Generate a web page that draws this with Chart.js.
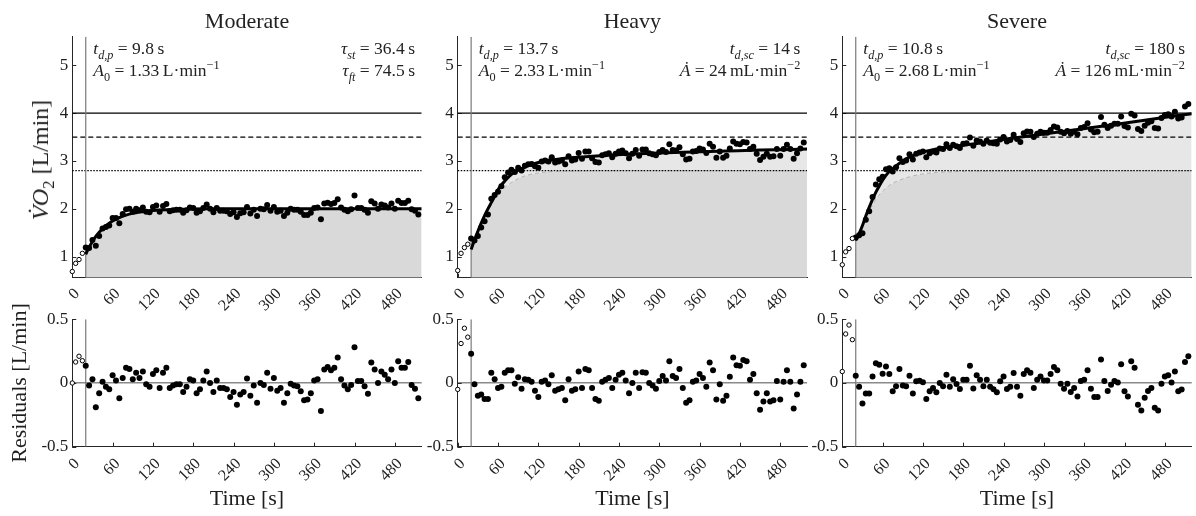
<!DOCTYPE html>
<html>
<head>
<meta charset="utf-8">
<script src="https://cdn.jsdelivr.net/npm/chart.js@4.4.1/dist/chart.umd.min.js"></script>
<style>
  body { margin: 0; background: #fff; width: 1196px; height: 516px; position: relative; overflow: hidden;
         font-family: 'Liberation Serif', 'Times New Roman', serif; }
  canvas { position: absolute; }
  .txt { position: absolute; white-space: nowrap; line-height: 1; color: #222; }
  .txt sub, .txt sup { font-size: 70%; line-height: 0; }
</style>
</head>
<body>
<script>
// ---- data ----
const sampleTimes = [20,25,30,35,40,45,50,55,60,65,
  70,75,80,85,90,95,100,105,110,115,
  120,125,130,135,140,145,150,155,160,165,
  170,175,180,185,190,195,200,205,210,215,
  220,225,230,235,240,245,250,255,260,265,
  270,275,280,285,290,295,300,305,310,315,
  320,325,330,335,340,345,350,355,360,365,
  370,375,380,385,390,395,400,405,410,415,
  420,425,430,435,440,445,450,455,460,465,
  470,475,480,485,490,495,500,505,510,515];
const baselineTimes = [0,5,10,15];
const timeTicks = [0,60,120,180,240,300,360,420,480];
const vo2Ticks = [1,2,3,4,5];
const residualTicks = [-0.5,0,0.5];
const timeRange = [0,520];
const vo2Range = [0.56,5.6];
const residualRange = [-0.5,0.5];
const thresholds = [4,3.5,2.8];
const exerciseStart = 20;

// moderate
const moderateObs = [1.19,1.18,1.35,1.23,1.43,1.59,1.62,1.65,1.81,1.81,
  1.70,1.89,1.99,2.00,1.94,2.00,1.97,2.03,1.94,1.93,
  2.04,2.07,1.94,2.06,2.10,1.95,1.97,1.98,1.98,1.92,
  1.97,2.03,2.02,1.92,1.95,2.02,2.09,2.00,1.93,2.02,
  1.96,1.96,1.95,1.89,1.93,1.83,1.91,1.93,2.04,1.90,
  1.98,1.85,2.00,1.99,2.08,1.96,2.04,1.94,1.96,1.85,
  1.92,2.00,1.98,1.98,1.94,1.87,1.87,1.92,2.02,2.03,
  1.78,2.11,2.13,2.10,2.12,2.20,2.03,1.98,1.95,1.99,
  2.28,2.02,2.02,1.98,1.92,2.16,2.11,2.00,2.09,2.07,
  2.03,2.11,2.00,2.17,2.12,2.12,2.17,1.99,1.96,1.88];
const moderateRes = [0.135,-0.02,0.03,-0.19,-0.08,0.01,-0.03,-0.05,0.06,0.02,
  -0.12,0.04,0.12,0.11,0.03,0.08,0.04,0.09,-0.01,-0.03,
  0.07,0.10,-0.04,0.08,0.12,-0.04,-0.02,-0.01,-0.01,-0.07,
  -0.03,0.03,0.02,-0.08,-0.05,0.02,0.09,0.0,-0.07,0.02,
  -0.04,-0.04,-0.05,-0.11,-0.07,-0.17,-0.09,-0.07,0.035,-0.10,
  -0.02,-0.155,0.0,-0.015,0.08,-0.045,0.04,-0.06,-0.04,-0.155,
  -0.08,-0.005,-0.02,-0.025,-0.065,-0.135,-0.13,-0.08,0.02,0.03,
  -0.22,0.105,0.125,0.10,0.12,0.20,0.03,-0.02,-0.05,-0.015,
  0.28,0.015,0.015,-0.025,-0.085,0.16,0.105,0.0,0.09,0.065,
  0.03,0.105,0.0,0.17,0.12,0.12,0.165,-0.015,-0.045,-0.12];
const moderateBaseObs = [0.69,0.86,0.94,1.07];
const moderateBaseRes = [0.0,0.165,0.21,0.175];
const moderateFitTimes = [20,25,30,35,40,45,50,55,60,70,80,90,100,110,120,140,160,200,300,400,520];
const moderateFit = [1.05,1.195,1.318,1.422,1.509,1.584,1.647,1.701,1.746,1.818,1.869,1.906,1.932,1.951,1.965,1.982,1.99,2.0,2.0,2.0,2.0];

// heavy
const heavyObs = [1.38,1.34,1.43,1.61,1.74,1.88,2.21,2.29,2.36,2.47,
  2.66,2.76,2.82,2.77,2.86,2.80,2.90,2.93,2.94,2.89,
  2.86,2.99,3.01,2.99,3.08,2.97,2.99,3.01,2.93,3.10,
  3.01,3.03,3.17,3.05,3.20,3.20,3.06,2.98,2.97,3.12,
  3.14,3.16,3.08,3.15,3.20,3.22,3.16,3.06,3.15,3.23,
  3.11,3.24,3.24,3.16,3.14,3.12,3.19,3.23,3.19,3.35,
  3.23,3.22,3.29,3.14,3.03,3.05,3.20,3.21,3.26,3.24,
  3.17,3.36,3.30,3.07,3.20,3.07,3.11,3.26,3.41,3.36,
  3.35,3.40,3.39,3.25,3.30,3.15,3.02,3.09,3.15,3.09,
  3.10,3.25,3.11,3.25,3.34,3.25,3.05,3.16,3.26,3.39];
const heavyRes = [0.23,-0.01,-0.10,-0.09,-0.125,-0.125,0.08,0.03,-0.04,-0.03,
  0.08,0.10,0.10,-0.005,0.045,-0.045,0.03,0.025,0.01,-0.06,
  -0.11,0.01,0.02,-0.01,0.06,-0.06,-0.05,-0.04,-0.135,0.03,
  -0.06,-0.05,0.09,-0.04,0.11,0.10,-0.04,-0.125,-0.14,0.01,
  0.025,0.04,-0.04,0.025,0.065,0.08,0.02,-0.08,0.0,0.08,
  -0.04,0.085,0.08,0.0,-0.02,-0.045,0.015,0.055,0.02,0.17,
  0.055,0.04,0.11,-0.04,-0.155,-0.135,0.01,0.02,0.07,0.04,
  -0.03,0.16,0.10,-0.13,-0.01,-0.14,-0.10,0.05,0.20,0.14,
  0.135,0.18,0.17,0.025,0.07,-0.08,-0.21,-0.145,-0.08,-0.145,
  -0.135,0.015,-0.13,0.01,0.10,0.01,-0.20,-0.09,0.01,0.14];
const heavyBaseObs = [0.71,1.07,1.19,1.26];
const heavyBaseRes = [-0.05,0.31,0.43,0.36];
const heavyFitTimes = [20,25,30,35,40,45,50,55,60,65,70,80,90,100,110,120,140,160,200,250,300,350,400,450,520];
const heavyFit = [1.15,1.35,1.53,1.70,1.86,2.0,2.13,2.26,2.40,2.50,2.58,2.72,2.81,2.87,2.93,2.97,3.02,3.06,3.10,3.14,3.17,3.19,3.21,3.23,3.25];
const heavyPrimaryTimes = [20,25,30,35,40,45,50,55,60,70,80,90,100,120,140,170,220,520];
const heavyPrimary = [1.15,1.35,1.53,1.70,1.86,2.0,2.12,2.22,2.30,2.44,2.55,2.63,2.69,2.75,2.78,2.79,2.8,2.8];

// severe
const severeObs = [1.40,1.45,1.49,1.77,1.95,2.25,2.51,2.62,2.67,2.83,
  2.85,2.78,2.87,3.06,2.98,3.01,3.14,3.03,3.15,3.18,
  3.20,3.08,3.16,3.20,3.18,3.26,3.25,3.35,3.27,3.34,
  3.31,3.27,3.36,3.37,3.49,3.32,3.43,3.41,3.36,3.43,
  3.38,3.37,3.36,3.45,3.50,3.41,3.44,3.55,3.46,3.40,
  3.58,3.62,3.61,3.50,3.57,3.61,3.59,3.59,3.65,3.72,
  3.70,3.61,3.58,3.63,3.57,3.61,3.56,3.69,3.71,3.79,
  3.66,3.60,3.61,3.92,3.76,3.69,3.74,3.78,3.78,3.93,
  3.73,3.70,3.99,3.95,3.67,3.63,3.74,3.80,3.83,3.69,
  3.68,3.90,3.96,3.98,3.93,4.03,3.89,3.91,4.14,4.19];
const severeRes = [0.057,-0.03,-0.16,-0.083,-0.083,0.052,0.156,0.143,0.073,0.13,
  0.07,-0.065,-0.026,0.11,-0.02,-0.026,0.057,-0.083,0.013,0.018,
  0.005,-0.125,-0.065,-0.04,-0.073,0.0,-0.026,0.065,-0.03,0.03,
  -0.008,-0.047,0.026,0.026,0.135,-0.044,0.06,0.026,-0.026,0.026,
  -0.03,-0.05,-0.073,0.013,0.052,-0.047,-0.03,0.078,-0.03,-0.10,
  0.07,0.10,0.08,-0.04,0.026,0.052,0.02,0.02,0.07,0.125,
  0.10,-0.005,-0.045,-0.005,-0.07,-0.04,-0.105,0.016,0.026,0.10,
  -0.045,-0.11,-0.11,0.185,0.016,-0.063,-0.013,0.016,0.003,0.147,
  -0.065,-0.105,0.17,0.12,-0.17,-0.215,-0.115,-0.063,-0.04,-0.194,
  -0.215,-0.005,0.052,0.06,0.003,0.09,-0.065,-0.052,0.165,0.21];
const severeBaseObs = [0.83,1.10,1.17,1.38];
const severeBaseRes = [0.09,0.385,0.455,0.34];
const severeFitTimes = [20,25,30,35,40,45,50,55,60,65,70,80,90,100,110,120,140,160,180,250,300,350,400,450,520];
const severeFit = [1.34,1.48,1.65,1.85,2.03,2.2,2.35,2.48,2.6,2.7,2.78,2.9,3.0,3.08,3.14,3.19,3.25,3.3,3.33,3.47,3.565,3.66,3.755,3.855,3.99];
const severePrimaryTimes = [20,25,30,35,40,50,60,70,80,100,120,140,170,200,520];
const severePrimary = [1.34,1.48,1.63,1.8,1.95,2.2,2.37,2.49,2.57,2.67,2.73,2.76,2.78,2.79,2.8];

// ---- layout ----
const colLeft = [72.3, 457.7, 842.3];
const plotWidth = 349.4;
const topArea = [36.7, 277.7];
const bottomArea = [319.3, 446.7];
const ink = '#1e1e1e';
const axisColor = '#262626';

Chart.defaults.font.family = "'Liberation Serif', 'Times New Roman', serif";
Chart.defaults.color = ink;
Chart.defaults.animation = false;

const panels = [
  { title: 'Moderate', obs: moderateObs, res: moderateRes, baseObs: moderateBaseObs, baseRes: moderateBaseRes,
    fitT: moderateFitTimes, fit: moderateFit, primT: null, prim: null,
    left: ['<i>t</i><sub><i>d,p</i></sub> = 9.8&#8201;s', '<i>A</i><sub>0</sub> = 1.33&#8201;L·min<sup>−1</sup>'],
    right: ['<i>τ</i><sub><i>st</i></sub> = 36.4&#8201;s', '<i>τ</i><sub><i>ft</i></sub> = 74.5&#8201;s'] },
  { title: 'Heavy', obs: heavyObs, res: heavyRes, baseObs: heavyBaseObs, baseRes: heavyBaseRes,
    fitT: heavyFitTimes, fit: heavyFit, primT: heavyPrimaryTimes, prim: heavyPrimary,
    left: ['<i>t</i><sub><i>d,p</i></sub> = 13.7&#8201;s', '<i>A</i><sub>0</sub> = 2.33&#8201;L·min<sup>−1</sup>'],
    right: ['<i>t</i><sub><i>d,sc</i></sub> = 14&#8201;s', '<i>Ȧ</i> = 24&#8201;mL·min<sup>−2</sup>'] },
  { title: 'Severe', obs: severeObs, res: severeRes, baseObs: severeBaseObs, baseRes: severeBaseRes,
    fitT: severeFitTimes, fit: severeFit, primT: severePrimaryTimes, prim: severePrimary,
    left: ['<i>t</i><sub><i>d,p</i></sub> = 10.8&#8201;s', '<i>A</i><sub>0</sub> = 2.68&#8201;L·min<sup>−1</sup>'],
    right: ['<i>t</i><sub><i>d,sc</i></sub> = 180&#8201;s', '<i>Ȧ</i> = 126&#8201;mL·min<sup>−2</sup>'] }
];

const pts = (xs, ys) => xs.map((x, i) => ({x: x, y: ys[i]}));
const fixedTicks = list => scale => { scale.ticks = list.map(v => ({value: v})); };

// MATLAB style ticks pointing into the axes
const innerTicks = {
  id: 'innerTicks',
  beforeDatasetsDraw(chart) {
    const {ctx, chartArea: a, scales: {x, y}} = chart;
    ctx.save();
    ctx.strokeStyle = axisColor;
    ctx.lineWidth = 1;
    ctx.beginPath();
    y.ticks.forEach(t => {
      const py = Math.round(y.getPixelForValue(t.value)) + 0.5;
      ctx.moveTo(a.left, py); ctx.lineTo(a.left + 4, py);
    });
    x.ticks.forEach(t => {
      const px = Math.round(x.getPixelForValue(t.value)) + 0.5;
      ctx.moveTo(px, a.bottom); ctx.lineTo(px, a.bottom - 4);
    });
    ctx.stroke();
    ctx.restore();
  }
};

function addCanvas(left, top, w, h) {
  const c = document.createElement('canvas');
  c.width = w; c.height = h;
  c.style.left = left + 'px'; c.style.top = top + 'px';
  c.style.width = w + 'px'; c.style.height = h + 'px';
  document.body.appendChild(c);
  return c;
}

function addText(html, x, y, size, align) {
  const d = document.createElement('div');
  d.className = 'txt';
  d.innerHTML = html;
  d.style.left = x + 'px';
  d.style.top = y + 'px';
  d.style.fontSize = size + 'px';
  if (align === 'center') d.style.transform = 'translateX(-50%)';
  if (align === 'right') d.style.transform = 'translateX(-100%)';
  document.body.appendChild(d);
  return d;
}

const lineStyle = {type: 'line', pointRadius: 0, fill: false, cubicInterpolationMode: 'monotone'};
const noLine = 'rgba(0,0,0,0)';
const thresholdDash = [[], [5, 3], [1.5, 1.5]];

function xScale(height, pad, extra) {
  return Object.assign({
    type: 'linear', min: timeRange[0], max: timeRange[1],
    afterBuildTicks: fixedTicks(timeTicks),
    ticks: {minRotation: 45, maxRotation: 45, autoSkip: false, padding: pad, labelOffset: 5, font: {size: 16}, color: ink},
    grid: {display: false, drawTicks: false},
    border: {display: true, color: axisColor, width: 1},
    afterFit: s => { s.height = height; }
  }, extra || {});
}

function drawTop(p, c) {
  const left = c === 0 ? 0 : Math.floor(colLeft[c] - 60);
  const yW = colLeft[c] - left;
  const w = Math.ceil(yW + plotWidth + 8);
  const h = 314;
  const cv = addCanvas(left, 0, w, h);
  const ds = [];
  if (p.prim) {
    ds.push(Object.assign({}, lineStyle, {data: pts(p.primT, p.prim), borderColor: noLine, fill: 'start', backgroundColor: '#d9d9d9', order: 10}));
    ds.push(Object.assign({}, lineStyle, {data: pts(p.fitT, p.fit), borderColor: noLine, fill: '-1', backgroundColor: '#e7e7e7', order: 9}));
    ds.push(Object.assign({}, lineStyle, {data: pts(p.primT, p.prim), borderColor: '#b3b3b3', borderWidth: 1, borderDash: [4, 3], order: 8}));
  } else {
    ds.push(Object.assign({}, lineStyle, {data: pts(p.fitT, p.fit), borderColor: noLine, fill: 'start', backgroundColor: '#d9d9d9', order: 10}));
  }
  thresholds.forEach((v, i) => {
    ds.push(Object.assign({}, lineStyle, {data: timeRange.map(x => ({x: x, y: v})), borderColor: '#000', borderWidth: 1.2, borderDash: thresholdDash[i], order: 7}));
  });
  ds.push(Object.assign({}, lineStyle, {data: vo2Range.map(y => ({x: exerciseStart, y: y})), borderColor: '#7a7a7a', borderWidth: 1.2, order: 6}));
  ds.push(Object.assign({}, lineStyle, {data: pts(p.fitT, p.fit), borderColor: '#000', borderWidth: 3, order: 3}));
  ds.push({type: 'scatter', data: pts(sampleTimes, p.obs), pointRadius: 3, backgroundColor: '#000', borderWidth: 0, clip: false, order: 2});
  ds.push({type: 'scatter', data: pts(baselineTimes, p.baseObs), pointRadius: 2.2, backgroundColor: '#fff', borderColor: '#000', borderWidth: 1, clip: false, order: 1});

  new Chart(cv, {
    type: 'scatter',
    data: {datasets: ds},
    options: {
      responsive: false,
      layout: {padding: {top: topArea[0], right: w - yW - plotWidth, left: 0, bottom: 0}},
      plugins: {legend: {display: false}, tooltip: {enabled: false}},
      scales: {
        x: xScale(h - topArea[1], 7),
        y: {
          type: 'linear', min: vo2Range[0], max: vo2Range[1],
          afterBuildTicks: fixedTicks(vo2Ticks),
          ticks: {padding: 4, font: {size: 17}, color: ink},
          grid: {display: false, drawTicks: false},
          border: {display: true, color: axisColor, width: 1},
          afterFit: s => { s.width = yW; }
        }
      }
    },
    plugins: [innerTicks]
  });

  // title and fit parameters
  const cx = colLeft[c] + plotWidth / 2;
  addText(p.title, cx, 10, 22, 'center');
  addText(p.left[0], colLeft[c] + 21, 39.5, 17.5, 'left');
  addText(p.left[1], colLeft[c] + 21, 61.5, 17.5, 'left');
  addText(p.right[0], colLeft[c] + plotWidth - 6.7, 39.5, 17.5, 'right');
  addText(p.right[1], colLeft[c] + plotWidth - 6.7, 61.5, 17.5, 'right');
}

function drawBottom(p, c) {
  const left = c === 0 ? 0 : Math.floor(colLeft[c] - 60);
  const yW = colLeft[c] - left;
  const w = Math.ceil(yW + plotWidth + 8);
  const top = 300;
  const h = 516 - top;
  const cv = addCanvas(left, top, w, h);
  const ds = [
    Object.assign({}, lineStyle, {data: residualRange.map(y => ({x: exerciseStart, y: y})), borderColor: '#7a7a7a', borderWidth: 1.2, order: 6}),
    {type: 'scatter', data: pts(sampleTimes, p.res), pointRadius: 3, backgroundColor: '#000', borderWidth: 0, clip: false, order: 2},
    {type: 'scatter', data: pts(baselineTimes, p.baseRes), pointRadius: 2.2, backgroundColor: '#fff', borderColor: '#000', borderWidth: 1, clip: false, order: 1}
  ];
  new Chart(cv, {
    type: 'scatter',
    data: {datasets: ds},
    options: {
      responsive: false,
      layout: {padding: {top: bottomArea[0] - top, right: w - yW - plotWidth, left: 0, bottom: 0}},
      plugins: {legend: {display: false}, tooltip: {enabled: false}},
      scales: {
        x: xScale(516 - bottomArea[1], 8, {
          title: {display: true, text: 'Time [s]', font: {size: 22}, color: ink, padding: {top: 0, bottom: 4}}
        }),
        y: {
          type: 'linear', min: residualRange[0], max: residualRange[1],
          afterBuildTicks: fixedTicks(residualTicks),
          ticks: {padding: 4, font: {size: 17}, color: ink, callback: v => String(v)},
          grid: {display: true, drawTicks: false, lineWidth: 1.5,
                 color: ctx => (ctx.tick && ctx.tick.value === 0) ? '#8a8a8a' : 'rgba(0,0,0,0)'},
          border: {display: true, color: axisColor, width: 1},
          title: {display: c === 0, text: 'Residuals [L/min]', font: {size: 22}, color: ink, padding: {top: 7, bottom: 0}},
          afterFit: s => { s.width = yW; }
        }
      }
    },
    plugins: [innerTicks]
  });
}

panels.forEach((p, c) => { drawTop(p, c); drawBottom(p, c); });

// y label of the top row
const vo2Label = addText('<i>V&#775;O</i><sub>2</sub> [L/min]', 40, 160, 24, 'left');
vo2Label.style.transform = 'translate(-50%,-50%) rotate(-90deg)';
</script>
</body>
</html>
